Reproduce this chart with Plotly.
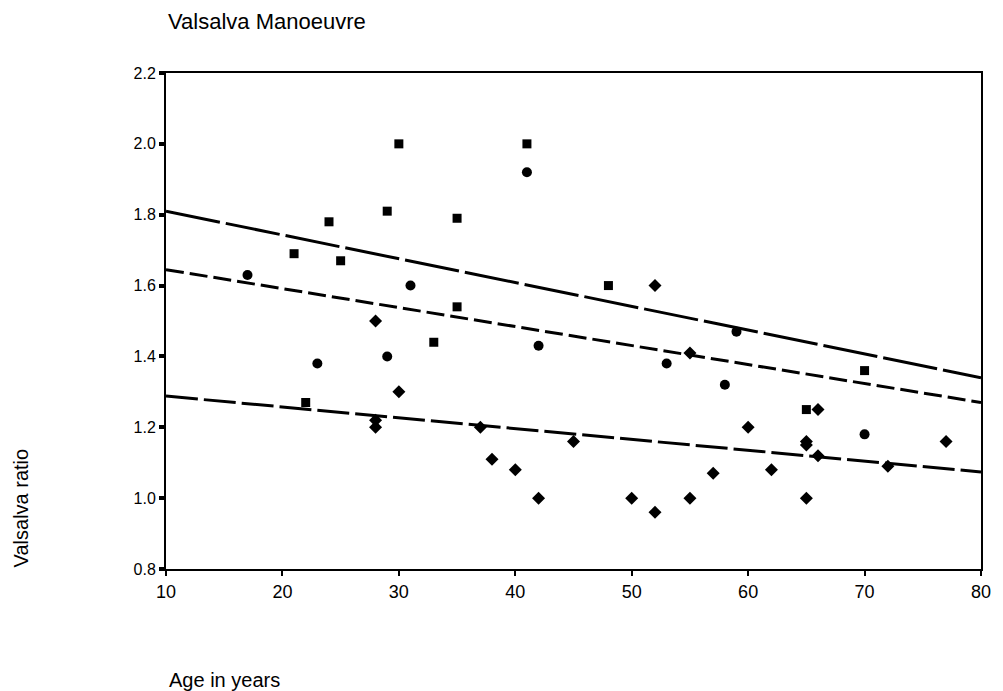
import plotly.graph_objects as go

# Data
square_age = [21, 22, 24, 25, 29, 30, 33, 35, 35, 41, 48, 65, 70]
square_ratio = [1.69, 1.27, 1.78, 1.67, 1.81, 2.00, 1.44, 1.79, 1.54, 2.00, 1.60, 1.25, 1.36]

circle_age = [17, 23, 29, 31, 41, 42, 53, 58, 59, 70]
circle_ratio = [1.63, 1.38, 1.40, 1.60, 1.92, 1.43, 1.38, 1.32, 1.47, 1.18]

diamond_age = [28, 28, 28, 30, 37, 38, 40, 42, 45, 50, 52, 52, 55, 55, 57, 60, 62,
               65, 65, 65, 66, 66, 72, 77]
diamond_ratio = [1.50, 1.22, 1.20, 1.30, 1.20, 1.11, 1.08, 1.00, 1.16, 1.00, 0.96, 1.60,
                 1.41, 1.00, 1.07, 1.20, 1.08, 1.16, 1.15, 1.00, 1.25, 1.12, 1.09, 1.16]

line_age = [10, 80]
line_upper = [1.81, 1.34]
line_middle = [1.645, 1.27]
line_lower = [1.288, 1.074]

y_ticks = [0.8, 1.0, 1.2, 1.4, 1.6, 1.8, 2.0, 2.2]
x_ticks = [10, 20, 30, 40, 50, 60, 70, 80]

# page has an 8px body margin: layout pixel = page pixel - 8
W, H = 995, 683
L, R, T, B = 158, 14, 65, 122

fig = go.Figure()

fig.add_trace(go.Scatter(x=line_age, y=line_upper, mode="lines",
                         line=dict(color="black", width=3, dash="55px,6px"),
                         showlegend=False, hoverinfo="skip"))
fig.add_trace(go.Scatter(x=line_age, y=line_middle, mode="lines",
                         line=dict(color="black", width=3, dash="18px,6px"),
                         showlegend=False, hoverinfo="skip"))
fig.add_trace(go.Scatter(x=line_age, y=line_lower, mode="lines",
                         line=dict(color="black", width=3, dash="32px,6px"),
                         showlegend=False, hoverinfo="skip"))

fig.add_trace(go.Scatter(x=square_age, y=square_ratio, mode="markers",
                         marker=dict(symbol="square", size=9, color="black"),
                         showlegend=False))
fig.add_trace(go.Scatter(x=circle_age, y=circle_ratio, mode="markers",
                         marker=dict(symbol="circle", size=10, color="black"),
                         showlegend=False))
fig.add_trace(go.Scatter(x=diamond_age, y=diamond_ratio, mode="markers",
                         marker=dict(symbol="diamond", size=10, color="black"),
                         showlegend=False))

font_family = "Liberation Sans, Arial, sans-serif"
narrow_family = "Liberation Sans Narrow, Liberation Sans, Arial, sans-serif"

pw = W - L - R
ph = H - T - B


def px_to_paper(page_x, page_y):
    lx, ly = page_x - 8, page_y - 8
    return (lx - L) / pw, (H - B - ly) / ph


tx, ty = px_to_paper(166, 21)
yx, yy = px_to_paper(20, 508)
ax_, ay_ = px_to_paper(167, 680)

fig.update_layout(
    width=W, height=H,
    margin=dict(l=L, r=R, t=T, b=B),
    paper_bgcolor="white", plot_bgcolor="white",
    font=dict(family=font_family, color="black", size=16),
    showlegend=False,
    xaxis=dict(range=[10, 80], tickvals=x_ticks, ticks="outside", ticklen=5,
               tickwidth=2, tickcolor="black", showline=True, linecolor="black",
               linewidth=2, mirror=True, showgrid=False, zeroline=False,
               tickfont=dict(size=18)),
    yaxis=dict(range=[0.8, 2.2], tickvals=y_ticks, tickformat=".1f",
               ticks="outside", ticklen=5, tickwidth=4, tickcolor="black",
               showline=True, linecolor="black", linewidth=2, mirror=True,
               showgrid=False, zeroline=False,
               tickfont=dict(size=16, family=narrow_family)),
    annotations=[
        dict(text="Valsalva Manoeuvre", x=tx, y=ty, xref="paper", yref="paper",
             xanchor="left", yanchor="middle", showarrow=False, font=dict(size=22)),
        dict(text="Valsalva ratio", x=yx, y=yy, xref="paper", yref="paper",
             xanchor="center", yanchor="middle", textangle=-90, showarrow=False,
             font=dict(size=20)),
        dict(text="Age in years", x=ax_, y=ay_, xref="paper", yref="paper",
             xanchor="left", yanchor="middle", showarrow=False, font=dict(size=20)),
    ],
)

fig.write_html("out.html", config={"displayModeBar": False})
